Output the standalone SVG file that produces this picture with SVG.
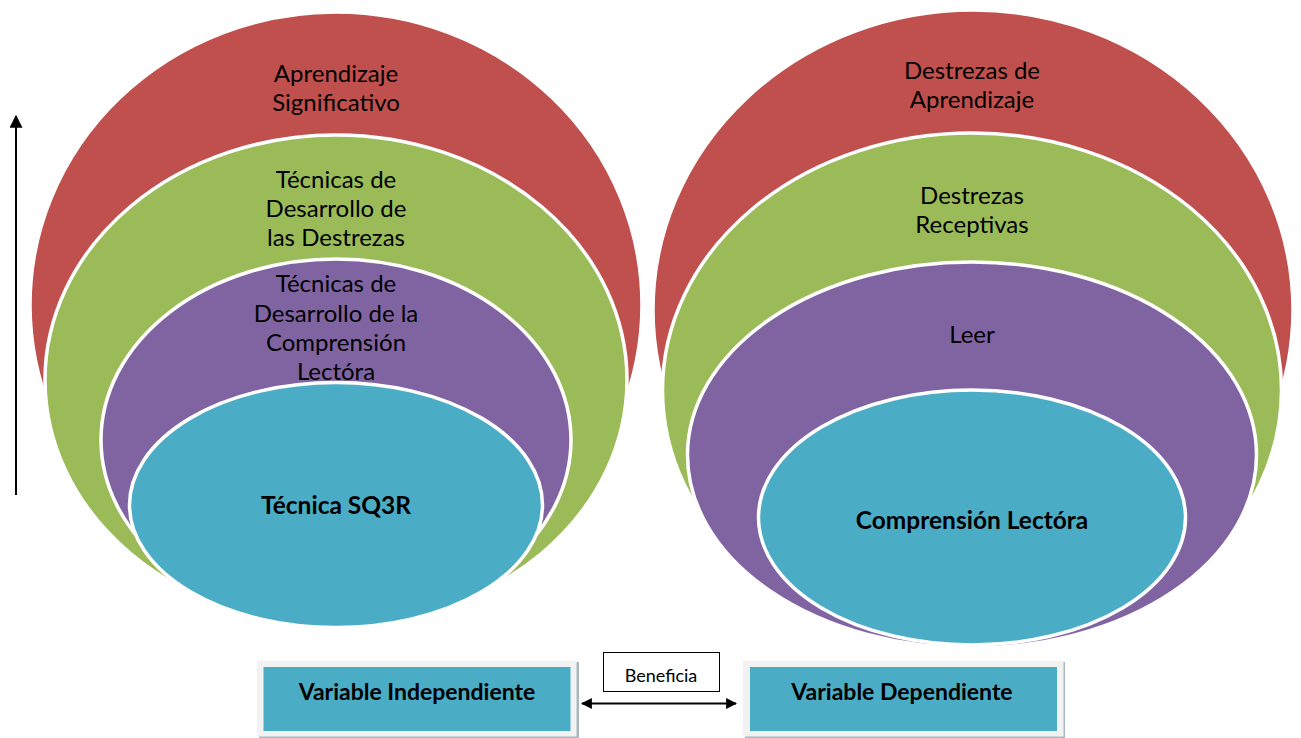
<svg xmlns="http://www.w3.org/2000/svg" width="1301" height="738" viewBox="0 0 1301 738">
<style>
.red{fill:#C0504D;stroke:#FFFFFF;stroke-width:3.5}
.green{fill:#9BBB59;stroke:#FFFFFF;stroke-width:3.5}
.purple{fill:#8064A2;stroke:#FFFFFF;stroke-width:3.5}
.cyan{fill:#4BACC6;stroke:#FFFFFF;stroke-width:3.5}
.t{font-family:Lato,"Liberation Sans",sans-serif;font-size:24px;fill:#000;text-anchor:middle}
.b{font-family:Lato,"Liberation Sans",sans-serif;font-size:24.5px;font-weight:bold;fill:#000;text-anchor:middle}
.frame{fill:#F2F2F2}
.shadow{fill:#A9B8C0}
.box{fill:#4BACC6}
.line{stroke:#000;stroke-width:2;fill:none}
</style>
<defs>
<marker id="ah" viewBox="0 0 10 10" refX="9" refY="5" markerWidth="5.5" markerHeight="5.5" orient="auto-start-reverse" markerUnits="strokeWidth">
<path d="M0,0 L10,5 L0,10 Z" fill="#000"/>
</marker>
<marker id="ah2" viewBox="0 0 10 10" refX="9" refY="5" markerWidth="6.5" markerHeight="6.5" orient="auto-start-reverse" markerUnits="strokeWidth">
<path d="M0,0 L10,5 L0,10 Z" fill="#000"/>
</marker>
</defs>

<g id="left-aprendizaje">
<ellipse class="red" cx="336" cy="305" rx="306" ry="293"/>
<text class="t" x="336" y="82">Aprendizaje</text>
<text class="t" x="336" y="111">Significativo</text>
</g>
<g id="left-tecnicas-destrezas">
<ellipse class="green" cx="336" cy="380" rx="291" ry="245"/>
<text class="t" x="336" y="188">Técnicas de</text>
<text class="t" x="336" y="217">Desarrollo de</text>
<text class="t" x="336" y="246">las Destrezas</text>
</g>
<g id="left-tecnicas-comprension">
<ellipse class="purple" cx="336" cy="440" rx="235" ry="181"/>
<text class="t" x="336" y="292">Técnicas de</text>
<text class="t" x="336" y="322">Desarrollo de la</text>
<text class="t" x="336" y="351">Comprensión</text>
<text class="t" x="336" y="380">Lectóra</text>
</g>
<g id="left-sq3r">
<ellipse class="cyan" cx="336" cy="505" rx="206.5" ry="122.5"/>
<text class="b" x="336" y="514">Técnica SQ3R</text>
</g>

<g id="right-destrezas-aprendizaje">
<ellipse class="red" cx="973" cy="310" rx="320" ry="300"/>
<text class="t" x="972" y="79">Destrezas de</text>
<text class="t" x="972" y="108">Aprendizaje</text>
</g>
<g id="right-destrezas-receptivas">
<ellipse class="green" cx="972" cy="390" rx="309.5" ry="257"/>
<text class="t" x="972" y="204">Destrezas</text>
<text class="t" x="972" y="233">Receptivas</text>
</g>
<g id="right-leer">
<ellipse class="purple" cx="972" cy="455" rx="284.5" ry="193"/>
<text class="t" x="972" y="343">Leer</text>
</g>
<g id="right-comprension">
<ellipse class="cyan" cx="972" cy="517.5" rx="213.5" ry="127.5"/>
<text class="b" x="972" y="529">Comprensión Lectóra</text>
</g>

<g id="variable-independiente">
<rect class="shadow" x="259" y="662" width="320" height="76"/>
<rect class="frame" x="257" y="660.5" width="319.5" height="76"/>
<rect class="box" x="263.5" y="667" width="307" height="64"/>
<text class="b" x="417" y="699.5" style="font-size:23px">Variable Independiente</text>
</g>
<g id="variable-dependiente">
<rect class="shadow" x="745" y="662" width="320" height="76"/>
<rect class="frame" x="743" y="660.5" width="320.5" height="76"/>
<rect class="box" x="750" y="667" width="307" height="64"/>
<text class="b" x="902" y="699.5" style="font-size:23px">Variable Dependiente</text>
</g>
<g id="beneficia">
<rect x="603.5" y="652.5" width="116" height="39" fill="#FFFFFF" stroke="#000" stroke-width="1"/>
<text class="t" x="661" y="682" style="font-size:18px">Beneficia</text>
</g>

<g id="connectors">
<line class="line" x1="16" y1="495" x2="16" y2="116" marker-end="url(#ah2)"/>
<line class="line" x1="582" y1="703.5" x2="736" y2="703.5" stroke-width="2.5" marker-start="url(#ah)" marker-end="url(#ah)"/>
</g>
</svg>
